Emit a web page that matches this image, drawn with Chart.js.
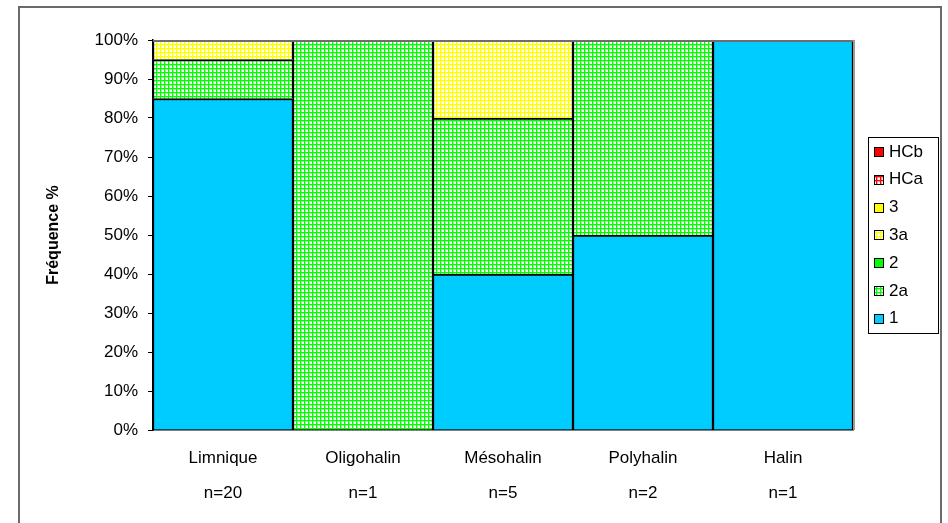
<!DOCTYPE html>
<html>
<head>
<meta charset="utf-8">
<script src="https://cdn.jsdelivr.net/npm/chart.js@4.4.1/dist/chart.umd.min.js"></script>
<style>
  html, body { margin: 0; padding: 0; background: #fff; }
  #wrap { width: 948px; height: 523px; position: relative; }
</style>
</head>
<body>
<div id="wrap"><canvas id="chart"></canvas></div>
<script>
// Salinity classes and number of sites per class
const categories = ['Limnique', 'Oligohalin', 'Mésohalin', 'Polyhalin', 'Halin'];
const sampleSizes = ['n=20', 'n=1', 'n=5', 'n=2', 'n=1'];

// Share (%) of each class per salinity zone
const class1   = [85, 0, 40, 50, 100];
const class2a  = [10, 100, 40, 50, 0];
const class2   = [0, 0, 0, 0, 0];
const class3a  = [5, 0, 20, 0, 0];
const class3   = [0, 0, 0, 0, 0];
const classHCa = [0, 0, 0, 0, 0];
const classHCb = [0, 0, 0, 0, 0];

const yTickLabels = ['0%', '10%', '20%', '30%', '40%', '50%', '60%', '70%', '80%', '90%', '100%'];

const FONT = '"Liberation Sans", Arial, sans-serif';

// Small-grid hatch: coloured lines every 4px on white, with a softened edge
function gridPattern(color, soft) {
  const t = document.createElement('canvas');
  t.width = 4; t.height = 4;
  const g = t.getContext('2d');
  g.fillStyle = '#fff';
  g.fillRect(0, 0, 4, 4);
  g.fillStyle = soft;
  g.fillRect(0, 1, 4, 1);
  g.fillRect(1, 0, 1, 4);
  g.fillStyle = color;
  g.fillRect(0, 0, 4, 1);
  g.fillRect(0, 0, 1, 4);
  return g.createPattern(t, 'repeat');
}

const series = [
  { label: '1',   data: class1,   fill: '#00CCFF' },
  { label: '2a',  data: class2a,  fill: gridPattern('#00FF00', '#99FF99') },
  { label: '2',   data: class2,   fill: '#00FF00' },
  { label: '3a',  data: class3a,  fill: gridPattern('#FFFF00', '#FFFF99') },
  { label: '3',   data: class3,   fill: '#FFFF00' },
  { label: 'HCa', data: classHCa, fill: gridPattern('#FF0000', '#FF9999') },
  { label: 'HCb', data: classHCb, fill: '#FF0000' }
];

const datasets = series.map(s => ({
  label: s.label,
  data: s.data.map(v => (v === 0 ? null : v)),
  backgroundColor: s.fill,
  borderColor: '#000',
  borderWidth: { top: 2, left: 1.5, right: 1.5, bottom: 0 },
  borderSkipped: 'start',
  barPercentage: 1,
  categoryPercentage: 1
}));

// Outer frame, plot-area edge and boxed legend
const decorations = {
  id: 'decorations',
  beforeDraw(chart) {
    const ctx = chart.ctx;
    ctx.save();
    ctx.fillStyle = '#fff';
    ctx.fillRect(0, 0, chart.width, chart.height);
    ctx.restore();
  },
  afterDatasetsDraw(chart) {
    const { ctx, chartArea: a } = chart;
    const yTop = chart.scales.y.getPixelForValue(100);
    ctx.save();
    ctx.fillStyle = '#6e6e6e';
    ctx.fillRect(a.left, yTop, a.right - a.left + 2, 2);
    ctx.fillStyle = '#9a9a9a';
    ctx.fillRect(a.right, yTop, 2, a.bottom - yTop);
    ctx.restore();
  },
  afterDraw(chart) {
    const ctx = chart.ctx;
    ctx.save();
    // frame around the whole chart
    ctx.strokeStyle = '#6a6a6a';
    ctx.lineWidth = 2;
    ctx.strokeRect(19, 7, 922, 600);

    // legend box
    ctx.strokeStyle = '#000';
    ctx.lineWidth = 1;
    ctx.strokeRect(868.5, 137.5, 70, 196);

    const items = chart.data.datasets.slice().reverse();
    ctx.font = '17px ' + FONT;
    ctx.textBaseline = 'middle';
    ctx.textAlign = 'left';
    items.forEach((ds, i) => {
      const cy = 152 + i * 27.8;
      const top = Math.round(cy - 5);
      ctx.fillStyle = '#fff';
      ctx.fillRect(874, top, 10, 10);
      ctx.fillStyle = ds.backgroundColor;
      ctx.fillRect(874, top, 10, 10);
      ctx.strokeStyle = '#000';
      ctx.strokeRect(874.5, top + 0.5, 9, 9);
      ctx.fillStyle = '#000';
      ctx.fillText(ds.label, 889, cy);
    });
    ctx.restore();
  }
};

new Chart(document.getElementById('chart'), {
  type: 'bar',
  data: {
    labels: categories.map((c, i) => [c, sampleSizes[i]]),
    datasets
  },
  options: {
    responsive: true,
    maintainAspectRatio: false,
    animation: false,
    layout: { padding: { top: 40, right: 95, bottom: 0, left: 0 } },
    plugins: {
      legend: { display: false },
      tooltip: { enabled: false }
    },
    scales: {
      x: {
        stacked: true,
        grid: { display: false, drawTicks: false },
        border: { display: true, color: '#000', width: 1.5 },
        ticks: {
          color: '#000',
          padding: 10,
          maxRotation: 0,
          font: { family: FONT, size: 17, lineHeight: 2.1 }
        },
        afterFit(scale) { scale.height = 93; }
      },
      y: {
        stacked: true,
        min: 0,
        max: 100,
        grid: {
          display: true,
          drawOnChartArea: false,
          drawTicks: true,
          tickLength: 5,
          color: '#000'
        },
        border: { display: true, color: '#000', width: 1.5 },
        ticks: {
          stepSize: 10,
          color: '#000',
          padding: 10,
          font: { family: FONT, size: 17 },
          callback: (v, i) => yTickLabels[i]
        },
        title: {
          display: true,
          text: 'Fréquence %',
          color: '#000',
          font: { family: FONT, size: 16, weight: 'bold' },
          padding: { top: 44, bottom: 0 }
        },
        afterFit(scale) { scale.width = 153; }
      }
    }
  },
  plugins: [decorations]
});
</script>
</body>
</html>
